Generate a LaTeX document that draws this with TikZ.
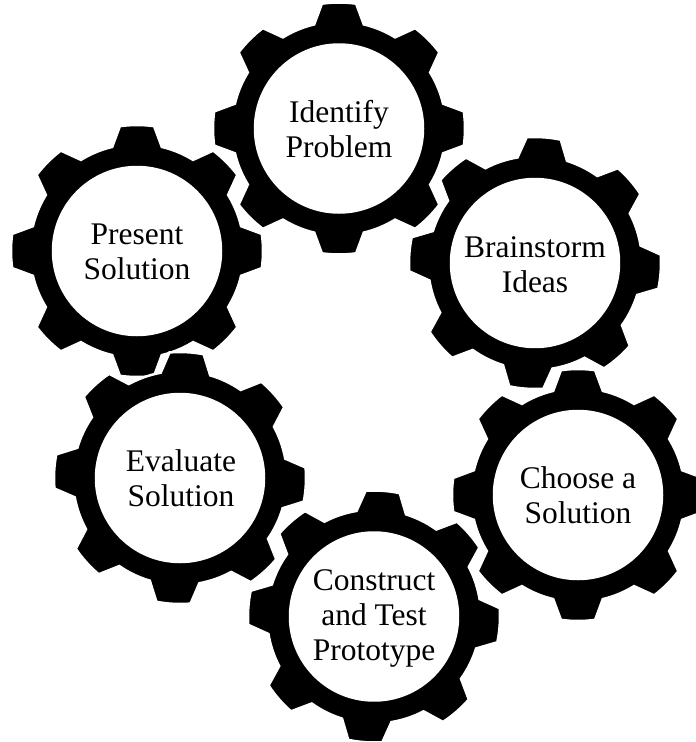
\documentclass[tikz,border=0pt]{standalone}
\usepackage{fontspec}
\setmainfont{Liberation Serif}
\tikzset{
  x=1pt, y=1pt,
  gearbody/.style={fill=black, draw=white, line width=2.5pt, even odd rule},
  gearlabel/.style={align=center, text=black, inner sep=0pt,
    font=\fontsize{31.5}{35}\selectfont}
}
\newcommand\gearat[3]{%
  \begin{scope}[shift={(#1,#2)}, rotate=#3]
    \path[gearbody] (-13.4:107)
      \foreach \i in {0,...,7}{
        -- ({45*\i-7.8}:126)
        arc[start angle={45*\i-7.8}, end angle={45*\i+7.8}, radius=126]
        -- ({45*\i+13.4}:107)
        arc[start angle={45*\i+13.4}, end angle={45*\i+45-13.4}, radius=107]
      } -- cycle
      (0,0) circle[radius=84];
  \end{scope}}
\begin{document}
\begin{tikzpicture}
\useasboundingbox (0,0) rectangle (696,-742);
\gearat{137}{-251}{0}
\gearat{339}{-128.5}{0}
\gearat{535}{-263}{-4}
\gearat{180}{-478}{-3}
\gearat{578}{-495}{0}
\gearat{374}{-616.5}{-4}
\node[gearlabel] (identify) at (339,-129) {Identify\\Problem};
\node[gearlabel] (present) at (137,-252) {Present\\Solution};
\node[gearlabel] (brainstorm) at (535,-265) {Brainstorm\\Ideas};
\node[gearlabel] (evaluate) at (181,-478) {Evaluate\\Solution};
\node[gearlabel] (choose) at (578,-495) {Choose a\\Solution};
\node[gearlabel] (construct) at (374,-618) {Construct\\and Test\\Prototype};
\end{tikzpicture}
\end{document}
